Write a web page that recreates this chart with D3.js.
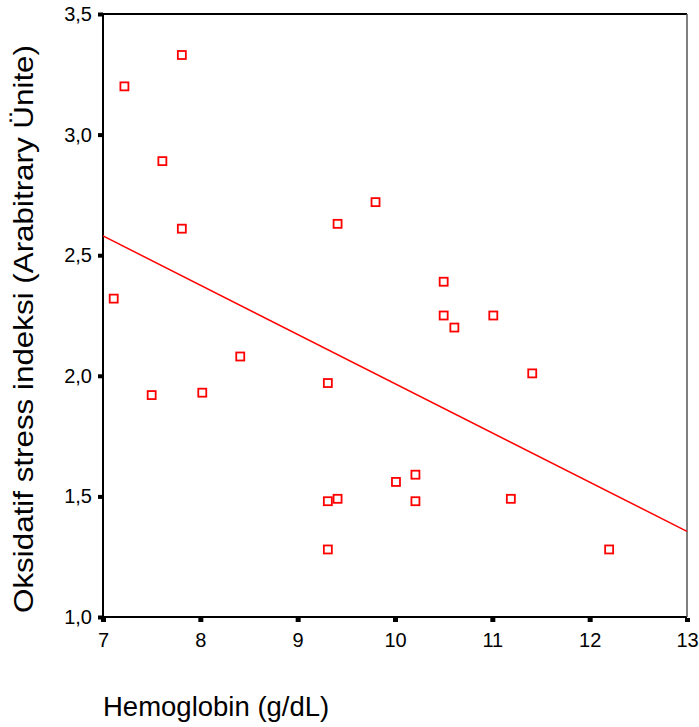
<!DOCTYPE html>
<html>
<head>
<meta charset="utf-8">
<script src="https://cdn.jsdelivr.net/npm/d3@7"></script>
<style>
  body { margin: 0; background: #fff; }
  text { font-family: "Liberation Sans", Arial, sans-serif; }
</style>
</head>
<body>
<div id="chart"></div>
<script>
// Daten
const hemoglobin = [7.81, 7.22, 7.61, 7.81, 7.11, 7.50, 8.02, 8.41, 9.41, 9.80, 9.31, 10.50,
                    10.50, 10.61, 11.01, 11.41, 10.01, 10.21, 9.31, 9.41, 10.21, 11.19, 9.31, 12.20];
const stress     = [3.33, 3.20, 2.89, 2.61, 2.32, 1.92, 1.93, 2.08, 2.63, 2.72, 1.97, 2.39,
                    2.25, 2.20, 2.25, 2.01, 1.56, 1.59, 1.48, 1.49, 1.48, 1.49, 1.28, 1.28];
const fitX = [7, 13];
const fitY = [2.58, 1.355];
const xTicks = [7, 8, 9, 10, 11, 12, 13];
const yTicks = [1.0, 1.5, 2.0, 2.5, 3.0, 3.5];

const W = 699, H = 727;
const margin = { top: 14, right: 12, bottom: 110, left: 103 };
const width  = W - margin.left - margin.right;
const height = H - margin.top - margin.bottom;

const svg = d3.select('#chart').append('svg')
  .attr('width', W).attr('height', H);

const g = svg.append('g')
  .attr('transform', `translate(${margin.left},${margin.top})`);

const x = d3.scaleLinear().domain([7, 13]).range([0, width]);
const y = d3.scaleLinear().domain([1, 3.5]).range([height, 0]);

// Rahmen
g.append('line').attr('x1', 0).attr('x2', width).attr('y1', 0).attr('y2', 0)
  .attr('stroke', '#000').attr('stroke-width', 2);
g.append('line').attr('x1', 0).attr('x2', 0).attr('y1', 0).attr('y2', height)
  .attr('stroke', '#000').attr('stroke-width', 2);
g.append('line').attr('x1', 0).attr('x2', width).attr('y1', height).attr('y2', height)
  .attr('stroke', '#000').attr('stroke-width', 2);
g.append('line').attr('x1', width).attr('x2', width).attr('y1', 0).attr('y2', height)
  .attr('stroke', '#555').attr('stroke-width', 1.5);

// x-Achse
const xAxis = g.append('g')
  .attr('transform', `translate(0,${height})`)
  .call(d3.axisBottom(x).tickValues(xTicks).tickSize(0).tickPadding(16)
    .tickFormat(d3.format('d')));
xAxis.select('.domain').remove();
xAxis.selectAll('text').attr('font-size', 20).attr('fill', '#000')
  .style('font-family', '"Liberation Sans", Arial, sans-serif');
xAxis.selectAll('.tick').append('rect')
  .attr('x', -2.5).attr('y', 1).attr('width', 5).attr('height', 4).attr('fill', '#000');

// y-Achse
const yAxis = g.append('g')
  .call(d3.axisLeft(y).tickValues(yTicks).tickSize(0).tickPadding(11)
    .tickFormat(d => d3.format('.1f')(d).replace('.', ',')));
yAxis.select('.domain').remove();
yAxis.selectAll('text').attr('font-size', 20).attr('fill', '#000')
  .style('font-family', '"Liberation Sans", Arial, sans-serif');
yAxis.selectAll('.tick').append('rect')
  .attr('x', -5).attr('y', -2).attr('width', 5).attr('height', 4).attr('fill', '#000');

// Regressionslinie
g.append('line')
  .attr('x1', x(fitX[0])).attr('y1', y(fitY[0]))
  .attr('x2', x(fitX[1])).attr('y2', y(fitY[1]))
  .attr('stroke', '#ff0000').attr('stroke-width', 1.5);

// Punkte
const pts = hemoglobin.map((h, i) => ({ h, s: stress[i] }));
g.selectAll('rect.pt')
  .data(pts)
  .enter().append('rect')
    .attr('class', 'pt')
    .attr('x', d => x(d.h) - 4)
    .attr('y', d => y(d.s) - 4)
    .attr('width', 8).attr('height', 8)
    .attr('fill', '#fff')
    .attr('stroke', '#ff0000')
    .attr('stroke-width', 1.8);

// Achsentitel
svg.append('text')
  .attr('x', 103).attr('y', 716)
  .attr('font-size', 27.5)
  .text('Hemoglobin (g/dL)');

svg.append('text')
  .attr('transform', `translate(33,329) rotate(-90)`)
  .attr('text-anchor', 'middle')
  .attr('font-size', 28)
  .attr('textLength', 568)
  .attr('lengthAdjust', 'spacingAndGlyphs')
  .text('Oksidatif stress indeksi (Arabitrary Ünite)');
</script>
</body>
</html>
